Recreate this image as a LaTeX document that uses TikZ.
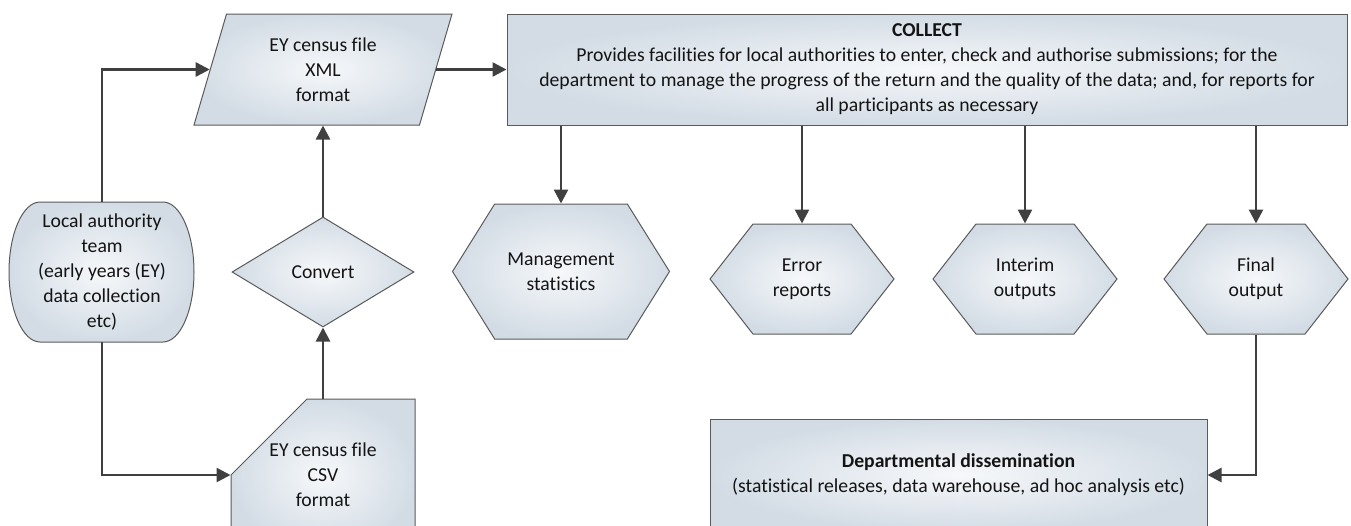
\documentclass[tikz,border=0pt]{standalone}
\usepackage{fontspec}
\setmainfont{Carlito}[Ligatures=NoCommon]
\usetikzlibrary{shapes.geometric,shapes.misc,shapes.symbols,arrows.meta}
\definecolor{edgec}{HTML}{5A5A5A}
\definecolor{arrc}{HTML}{404040}
\definecolor{fin}{HTML}{F6F8FA}
\definecolor{fout}{HTML}{D3DCE5}
\definecolor{txtc}{HTML}{141414}
\begin{document}
\begin{tikzpicture}[x=1pt,y=-1pt,
  base/.style={draw=edgec, line width=1pt, inner color=fin, outer color=fout,
    align=center, inner sep=0pt, text=txtc, font=\fontsize{19.7}{25}\selectfont},
  txt/.style={align=center, inner sep=0pt, text=txtc, font=\fontsize{19.7}{25}\selectfont},
  boxnode/.style={base, rectangle},
  hexnode/.style={base, signal, signal to=west and east},
  conn/.style={draw=arrc, line width=2.5pt, -{Triangle[length=14pt,width=14pt]}}
]
\useasboundingbox (0,0) rectangle (1351,525);
\clip (0,0) rectangle (1351,525);

% Local authority team (custom shape)
\shade[draw=edgec, line width=1pt, inner color=fin, outer color=fout]
  (40,202) -- (163,202)
  arc[start angle=90, end angle=-90, x radius=31pt, y radius=70pt]
  -- (40,342)
  arc[start angle=270, end angle=90, x radius=31pt, y radius=70pt] -- cycle;
\node[txt, minimum width=185pt, minimum height=140pt] (la) at (102,272)
  {Local authority\\team\\(early years (EY)\\data collection\\etc)};

% XML file (parallelogram)
\node[base, trapezium, trapezium left angle=63, trapezium right angle=117,
  trapezium stretches body, minimum width=258pt, minimum height=111pt] (xml) at (323,69.5)
  {EY census file\\XML\\format};

% Convert (diamond)
\node[base, diamond, minimum width=182pt, minimum height=110pt] (cv) at (323,272) {Convert};

% CSV file (chamfered)
\node[base, chamfered rectangle, chamfered rectangle corners=north west,
  chamfered rectangle xsep=44pt, chamfered rectangle ysep=44pt,
  minimum width=184pt, minimum height=112pt] (csv) at (323,475)
  {EY census file\\CSV\\format};

% COLLECT
\node[boxnode, minimum width=840pt, minimum height=111pt] (collect) at (927,69.5)
  {\textbf{COLLECT}\\Provides facilities for local authorities to enter, check and authorise submissions; for the\\department to manage the progress of the return and the quality of the data; and, for reports for\\all participants as necessary};

% Hexagons
\node[hexnode, signal pointer angle=116, minimum width=217pt, minimum height=135pt] (ms) at (561,271.5)
  {Management\\statistics};
\node[hexnode, signal pointer angle=104, minimum width=184pt, minimum height=110pt] (er) at (802,279)
  {Error\\reports};
\node[hexnode, signal pointer angle=104, minimum width=184pt, minimum height=110pt] (io) at (1025,279)
  {Interim\\outputs};
\node[hexnode, signal pointer angle=104, minimum width=184pt, minimum height=110pt] (fo) at (1256,279)
  {Final\\output};

% Departmental dissemination
\node[boxnode, minimum width=497pt, minimum height=112pt] (dd) at (958.5,475)
  {\textbf{Departmental dissemination}\\(statistical releases, data warehouse, ad hoc analysis etc)};

% Connectors
\draw[conn] (la.north) |- (xml.west);
\draw[conn] (la.south) |- (csv.west);
\draw[conn] (csv.north) -- (cv.south);
\draw[conn] (cv.north) -- (cv.north |- xml.south);
\draw[conn] (xml.east) -- (xml.east -| collect.west);
\draw[conn] (collect.south -| ms.north) -- (ms.north);
\draw[conn] (collect.south -| er.north) -- (er.north);
\draw[conn] (collect.south -| io.north) -- (io.north);
\draw[conn] (collect.south -| fo.north) -- (fo.north);
\draw[conn] (fo.south) |- (dd.east);
\end{tikzpicture}
\end{document}
